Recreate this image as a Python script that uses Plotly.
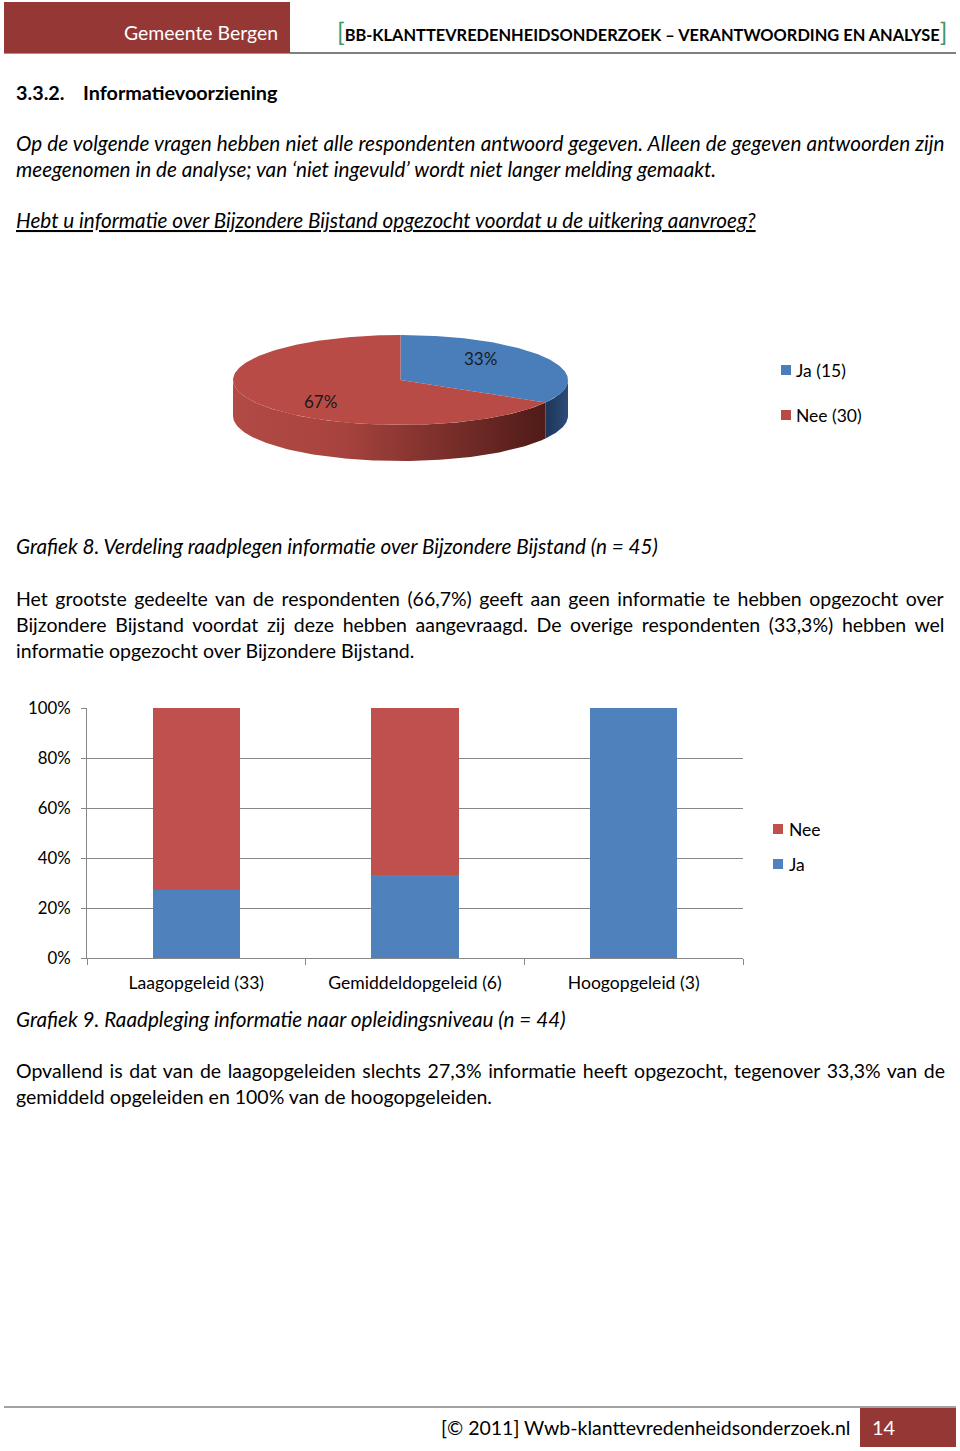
import numpy as np
import plotly.graph_objects as go

W, H = 960, 1451
FONT = "Lato"

# ---------------- data ----------------
pie_labels = ["Ja", "Nee"]
pie_counts = [15, 30]
pie_top_colors = ["#4a7ebb", "#b84b46"]

bar_categories = ["Laagopgeleid (33)", "Gemiddeldopgeleid (6)", "Hoogopgeleid (3)"]
bar_series = ["Ja", "Nee"]
bar_ja = [0.273, 0.333, 1.0]
bar_nee = [0.727, 0.667, 0.0]
bar_colors = ["#4f81bd", "#c0504d"]
y_tick_values = [0, 0.2, 0.4, 0.6, 0.8, 1.0]


def px(x):
    return x / W


def py(y):
    return 1 - y / H


fig = go.Figure()

# ---------------- 3D-look pie (Grafiek 8) ----------------
cx, cy, rx, ry, depth = 400.5, 380.0, 167.5, 45.0, 36.0


def ell(theta_deg, dy=0.0):
    t = np.radians(theta_deg)
    return cx + rx * np.sin(t), cy - ry * np.cos(t) + dy


total = sum(pie_counts)
angles = np.cumsum([0] + [c / total * 360 for c in pie_counts])

side_fill = [
    dict(type="horizontal", colorscale=[[0, "#1d3658"], [1, "#2c4c78"]]),
    dict(type="horizontal", colorscale=[[0, "#b24a45"], [0.35, "#a7433e"], [1, "#4f1b18"]]),
]

for i in range(len(pie_counts)):
    a0, a1 = angles[i], angles[i + 1]
    lo, hi = max(a0, 90), min(a1, 270)
    if lo < hi:
        t = np.linspace(lo, hi, 120)
        xt, yt = ell(t)
        xb, yb = ell(t[::-1], depth)
        fig.add_trace(go.Scatter(
            x=np.concatenate([xt, xb, xt[:1]]), y=np.concatenate([yt, yb, yt[:1]]),
            mode="lines", fill="toself", line=dict(width=0),
            fillgradient=side_fill[i], hoverinfo="skip", showlegend=False,
            xaxis="x2", yaxis="y2"))

for i in range(len(pie_counts)):
    a0, a1 = angles[i], angles[i + 1]
    t = np.linspace(a0, a1, 200)
    xt, yt = ell(t)
    fig.add_trace(go.Scatter(
        x=np.concatenate([[cx], xt, [cx]]), y=np.concatenate([[cy], yt, [cy]]),
        mode="lines", fill="toself", line=dict(width=0), fillcolor=pie_top_colors[i],
        hoverinfo="skip", showlegend=False, xaxis="x2", yaxis="y2"))
    mid = np.radians((a0 + a1) / 2)
    fig.add_annotation(
        x=cx + rx * 0.55 * np.sin(mid), y=cy - ry * 0.95 * np.cos(mid),
        xref="x2", yref="y2", text=f"{round(pie_counts[i] / total * 100)}%",
        showarrow=False, font=dict(family=FONT, size=17, color="#1a1a1a"))

# ---------------- stacked bars (Grafiek 9) ----------------
for name, vals, col in zip(bar_series, [bar_ja, bar_nee], bar_colors):
    fig.add_trace(go.Bar(x=bar_categories, y=vals, name=name, marker=dict(color=col, line=dict(width=0)),
                         hoverinfo="skip", showlegend=False))

GRID = "#868686"
fig.update_layout(
    width=W, height=H, margin=dict(l=0, r=0, t=0, b=0, autoexpand=False),
    paper_bgcolor="white", plot_bgcolor="rgba(0,0,0,0)",
    barmode="stack", bargap=0.6, showlegend=False,
    font=dict(family=FONT, size=17, color="black"),
    xaxis=dict(domain=[px(87), px(743)], anchor="y", showline=True, linecolor=GRID, linewidth=1,
               ticks="outside", tickson="boundaries", ticklen=6, tickcolor=GRID,
               tickfont=dict(size=17.6), showgrid=False, fixedrange=True, automargin=False,
               ticklabelstandoff=9),
    yaxis=dict(domain=[py(958), py(708)], anchor="x", range=[0, 1], tickvals=y_tick_values,
               tickformat=".0%", showline=True, linecolor=GRID, linewidth=1, ticks="outside",
               ticklen=5, tickcolor=GRID, showgrid=True, gridcolor=GRID, gridwidth=1,
               zeroline=False, tickfont=dict(size=16.8), fixedrange=True, automargin=False,
               ticklabelstandoff=7),
    xaxis2=dict(domain=[0, 1], range=[0, W], anchor="y2", visible=False, fixedrange=True),
    yaxis2=dict(domain=[0, 1], range=[H, 0], anchor="x2", visible=False, fixedrange=True),
)

PAD = 2  # annotation inner padding compensation


def txt(x, y, s, size=19.5, color="black", anchor="left"):
    xx = x - PAD if anchor == "left" else (x + PAD if anchor == "right" else x)
    fig.add_annotation(x=px(xx), y=py(y), xref="paper", yref="paper", text=s, showarrow=False,
                       xanchor=anchor, yanchor="middle", font=dict(family=FONT, size=size, color=color))


def square(x0, yc, color, s=10):
    fig.add_shape(type="rect", xref="paper", yref="paper", x0=px(x0), x1=px(x0 + s),
                  y0=py(yc + s / 2), y1=py(yc - s / 2), fillcolor=color, line=dict(width=0))


# legends (pie)
for i, yc in enumerate([370, 415]):
    square(781, yc, pie_top_colors[i])
    txt(796, yc, f"{pie_labels[i]} ({pie_counts[i]})", size=17.5)
# legends (bars): Nee above Ja
for name, col, yc in zip(bar_series[::-1], bar_colors[::-1], [829, 864]):
    square(773, yc, col)
    txt(789, yc, name, size=17.5)

# ---------------- page furniture ----------------
fig.add_shape(type="line", xref="paper", yref="paper", x0=px(4), x1=px(290), y0=py(53.5), y1=py(53.5),
              line=dict(color="#9a9a9a", width=1))
fig.add_shape(type="rect", xref="paper", yref="paper", x0=px(4), x1=px(290), y0=py(53), y1=py(2),
              fillcolor="#953735", line=dict(width=0))
fig.add_shape(type="line", xref="paper", yref="paper", x0=px(290), x1=px(956), y0=py(53), y1=py(53),
              line=dict(color="black", width=1.2))
fig.add_shape(type="line", xref="paper", yref="paper", x0=px(4), x1=px(956), y0=py(1407), y1=py(1407),
              line=dict(color="#444", width=1.2))
fig.add_shape(type="rect", xref="paper", yref="paper", x0=px(860), x1=px(956), y0=py(1447), y1=py(1408),
              fillcolor="#953735", line=dict(width=0))

txt(201, 33, "Gemeente Bergen", size=19.4, color="white", anchor="center")
txt(337, 31, '<span style="color:#3a9a6a;font-size:25px">[</span><b>BB-KLANTTEVREDENHEIDSONDERZOEK – VERANTWOORDING EN ANALYSE</b>'
             '<span style="color:#3a9a6a;font-size:25px">]</span>', size=16.4)
txt(16, 92, "<b>3.3.2.</b>", size=19.8)
txt(83, 92, "<b>Informatievoorziening</b>", size=19.8)
IT = 20.7


def just(s, ws):
    return f'<span style="word-spacing:{ws}px">{s}</span>'


txt(16, 143, just("<i>Op de volgende vragen hebben niet alle respondenten antwoord gegeven. Alleen de gegeven antwoorden zijn</i>", 0.3), size=IT)
txt(16, 169, "<i>meegenomen in de analyse; van ‘niet ingevuld’ wordt niet langer melding gemaakt.</i>", size=IT)
txt(16, 220, "<i><u>Hebt u informatie over Bijzondere Bijstand opgezocht voordat u de uitkering aanvroeg?</u></i>", size=IT)
txt(16, 546, "<i>Grafiek 8. Verdeling raadplegen informatie over Bijzondere Bijstand (n = 45)</i>", size=IT)

txt(16, 598, just("Het grootste gedeelte van de respondenten (66,7%) geeft aan geen informatie te hebben opgezocht over", 2.5))
txt(16, 624, just("Bijzondere Bijstand voordat zij deze hebben aangevraagd. De overige respondenten (33,3%) hebben wel", 3.7))
txt(16, 650, "informatie opgezocht over Bijzondere Bijstand.")
txt(16, 1019, "<i>Grafiek 9. Raadpleging informatie naar opleidingsniveau (n = 44)</i>", size=IT)
txt(16, 1070, just("Opvallend is dat van de laagopgeleiden slechts 27,3% informatie heeft opgezocht, tegenover 33,3% van de", 1.6))
txt(16, 1096, "gemiddeld opgeleiden en 100% van de hoogopgeleiden.")
txt(850, 1427, "[© 2011] Wwb-klanttevredenheidsonderzoek.nl", size=19.5, anchor="right")
txt(872, 1427, "14", size=20, color="white")

fig.write_html("out.html")
